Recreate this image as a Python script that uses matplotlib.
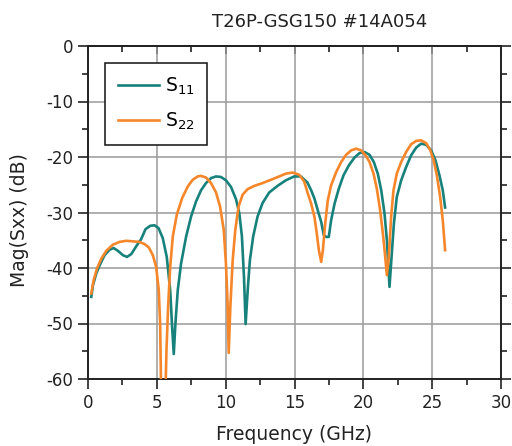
import numpy as np
import matplotlib
matplotlib.use("Agg")
import matplotlib.pyplot as plt
from matplotlib.ticker import MultipleLocator

plt.rcParams['axes.unicode_minus'] = False

# S11 trace (GHz, dB)
f_s11 = [0.24, 0.36, 0.6, 0.85, 1.2, 1.57, 1.86, 2.17, 2.54, 2.83, 3.14, 3.5,
         3.86, 4.18, 4.52, 4.83, 5.12, 5.43, 5.72, 5.97, 6.11, 6.23, 6.35, 6.52,
         6.76, 7.13, 7.49, 7.85, 8.21, 8.57, 8.94, 9.3, 9.66, 10.02, 10.39,
         10.75, 10.99, 11.18, 11.33, 11.45, 11.6, 11.76, 12.0, 12.32, 12.68,
         13.16, 13.77, 14.37, 14.98, 15.46, 15.94, 16.21, 16.45, 16.69, 16.94,
         17.13, 17.3, 17.49, 17.66, 17.91, 18.22, 18.56, 18.95, 19.36, 19.72,
         20.08, 20.45, 20.76, 21.05, 21.3, 21.54, 21.71, 21.9, 22.05, 22.22,
         22.43, 22.75, 23.11, 23.47, 23.84, 24.2, 24.56, 24.93, 25.24, 25.53,
         25.77, 25.94]
s11 = [-45.2, -43.1, -41.0, -39.5, -37.7, -36.7, -36.4, -36.9, -37.7, -38.0,
       -37.5, -36.1, -34.8, -33.0, -32.4, -32.3, -32.8, -34.6, -38.0, -44.0,
       -50.6, -55.5, -50.0, -44.0, -39.2, -34.3, -30.7, -28.0, -26.0, -24.7,
       -23.8, -23.5, -23.6, -24.2, -25.4, -27.6, -30.1, -34.3, -41.6, -50.1,
       -44.0, -38.6, -34.3, -30.7, -28.3, -26.4, -25.2, -24.2, -23.5, -23.5,
       -24.6, -26.0, -27.5, -29.6, -31.7, -34.1, -34.4, -34.4, -31.4, -28.4,
       -25.7, -23.3, -21.5, -20.1, -19.3, -19.1, -19.6, -20.9, -23.0, -26.0,
       -30.2, -35.0, -43.4, -38.0, -32.0, -27.2, -24.2, -21.8, -19.7, -18.3,
       -17.6, -17.8, -18.8, -20.6, -23.3, -26.0, -29.1]

# S22 trace
f_s22 = [0.24, 0.41, 0.65, 0.97, 1.33, 1.81, 2.29, 2.78, 3.26, 3.74, 4.11,
         4.42, 4.71, 4.95, 5.14, 5.24, 5.31, 5.63, 5.7, 5.82, 5.97, 6.16, 6.45,
         6.84, 7.25, 7.61, 7.97, 8.21, 8.57, 8.94, 9.3, 9.59, 9.86, 10.02,
         10.14, 10.22, 10.34, 10.51, 10.7, 10.94, 11.23, 11.59, 12.08, 12.68,
         13.29, 13.89, 14.37, 14.86, 15.34, 15.7, 15.97, 16.21, 16.45, 16.62,
         16.77, 16.94, 17.06, 17.23, 17.42, 17.66, 18.03, 18.39, 18.75, 19.12,
         19.48, 19.84, 20.16, 20.45, 20.74, 20.98, 21.22, 21.42, 21.59, 21.71,
         21.85, 22.02, 22.19, 22.43, 22.75, 23.11, 23.47, 23.84, 24.2, 24.56,
         24.85, 25.1, 25.34, 25.58, 25.77, 25.94]
s22 = [-44.6, -42.2, -40.1, -38.3, -36.9, -35.8, -35.3, -35.1, -35.2, -35.3,
       -35.7, -36.3, -37.7, -39.8, -44.0, -50.0, -62.0, -62.0, -54.8, -47.0,
       -39.8, -34.3, -30.4, -27.4, -25.3, -24.1, -23.5, -23.4, -23.7, -24.7,
       -26.4, -28.9, -33.1, -39.2, -46.4, -55.3, -47.0, -38.6, -33.1, -28.9,
       -26.8, -25.8, -25.2, -24.7, -24.1, -23.5, -23.0, -22.8, -23.2, -24.4,
       -26.6, -28.4, -30.8, -33.8, -36.8, -38.9, -36.8, -32.0, -27.8, -25.1,
       -22.7, -20.9, -19.6, -18.8, -18.5, -18.8, -19.7, -20.9, -23.0, -25.7,
       -29.6, -33.8, -38.0, -41.3, -38.0, -30.8, -26.0, -23.0, -20.9, -19.1,
       -17.7, -17.1, -17.0, -17.5, -18.7, -20.5, -23.3, -27.2, -31.4, -36.8]

fig = plt.figure(figsize=(5.12, 4.46), dpi=100)
ax = fig.add_axes([88/512, 1 - 379/446, 413/512, 333/446])

ax.plot(f_s11, s11, color="#17817b", lw=1.9, label="S$_{11}$", zorder=3)
ax.plot(f_s22, s22, color="#f5862a", lw=1.9, label="S$_{22}$", zorder=3)

ax.set_xlim(0, 30)
ax.set_ylim(-60, 0)
ax.xaxis.set_major_locator(MultipleLocator(5))
ax.xaxis.set_minor_locator(MultipleLocator(2.5))
ax.yaxis.set_major_locator(MultipleLocator(10))
ax.yaxis.set_minor_locator(MultipleLocator(5))
ax.grid(True, which="major", color="#9a9a9a", lw=1.1)
ax.tick_params(which="both", right=True, direction="out",
               labelsize=12, width=1.2, colors="#222222")
ax.tick_params(which="major", length=7)
ax.tick_params(which="minor", length=4)
for s in ax.spines.values():
    s.set_linewidth(1.4)
    s.set_color("#222222")

# top ticks point inward
top = ax.secondary_xaxis("top")
top.xaxis.set_major_locator(MultipleLocator(5))
top.xaxis.set_minor_locator(MultipleLocator(2.5))
top.tick_params(which="both", direction="in", labeltop=False, width=1.2,
                colors="#222222")
top.tick_params(which="major", length=6)
top.tick_params(which="minor", length=4)
top.spines["top"].set_linewidth(1.4)

ax.set_xlabel("Frequency (GHz)", fontsize=13.5, color="#222222", va="center")
ax.set_ylabel("Mag(Sxx) (dB)", fontsize=13.5, color="#222222", va="center",
              ha="center")
ax.xaxis.set_label_coords((294 - 88) / 413, -(435 - 379) / 333)
ax.yaxis.set_label_coords(-(88 - 20) / 413, (379 - 220) / 333)
fig.text(320/512, 1 - 22/446, "T26P-GSG150 #14A054", ha="center", va="center",
         fontsize=13, color="#222222")

leg = ax.legend(loc="upper left", bbox_to_anchor=(0.04, 0.95), fontsize=13.5,
                fancybox=False, framealpha=1, edgecolor="#222222",
                handlelength=2.2, handletextpad=0.3, borderaxespad=0,
                borderpad=0.7, labelspacing=0.7)
leg.get_frame().set_linewidth(1.2)

plt.savefig("out.png", dpi=100)
